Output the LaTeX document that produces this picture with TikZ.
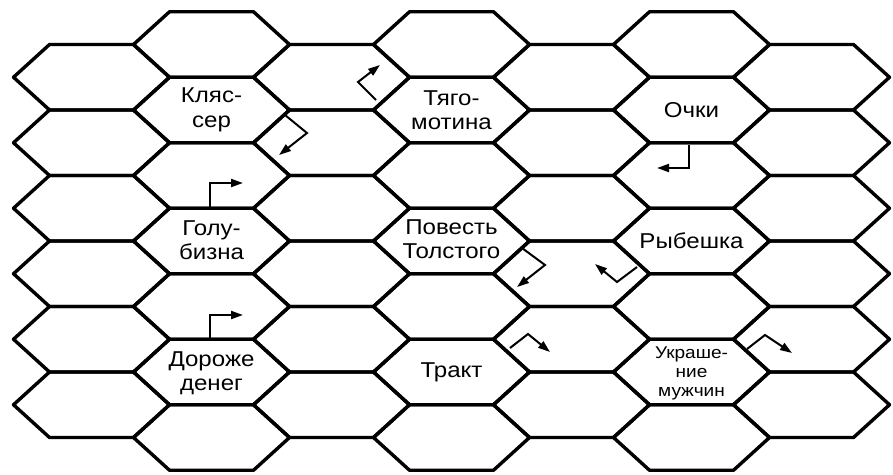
\documentclass[tikz,border=0pt]{standalone}
\usepackage{fontspec}
\setmainfont{Liberation Sans}[FakeStretch=1.12]
\usetikzlibrary{arrows.meta}

\tikzset{
  cell/.style={line width=3.4pt, line join=round},
  word/.style={align=center, inner sep=0pt, font=\fontsize{21.5}{24.5}\selectfont},
  turn/.style={line width=2pt, -{Triangle[length=12pt,width=8pt]}}
}

\begin{document}
\begin{tikzpicture}[x=1pt,y=-1pt]
\useasboundingbox (0,0) rectangle (893,474);
% odd columns: six cells, even columns: seven cells
\foreach \cx in {91.5,331.5,571.5,811.5}
  \foreach \cy in {77.25,142.75,208.25,273.75,339.25,404.75}
    \draw[cell] (\cx-78,\cy) -- ++(36,-32.75) -- ++(84,0) -- ++(36,32.75)
      -- ++(-36,32.75) -- ++(-84,0) -- cycle;
\foreach \cx in {211.5,451.5,691.5}
  \foreach \cy in {44.5,110,175.5,241,306.5,372,437.5}
    \draw[cell] (\cx-78,\cy) -- ++(36,-32.75) -- ++(84,0) -- ++(36,32.75)
      -- ++(-36,32.75) -- ++(-84,0) -- cycle;

\node[word] (klyaser) at (211.5,110) {Кляс-\\сер};
\node[word] (tyagomotina) at (451.5,110) {Тяго-\\мотина};
\node[word] (ochki) at (691.5,110) {Очки};
\node[word] (golubizna) at (211.5,240) {Голу-\\бизна};
\node[word] (povest) at (451.5,239) {Повесть\\Толстого};
\node[word] (rybeshka) at (691.5,241) {Рыбешка};
\node[word] (dorozhe) at (211.5,373) {Дороже\\денег};
\node[word] (trakt) at (451.5,372) {Тракт};
\node[word, font=\fontsize{17}{19}\selectfont] (ukrashenie) at (691.5,373)
  {Украше-\\ние\\мужчин};

\draw[turn] (285,115) -- (307,133) -- (279,155);
\draw[turn] (376,100) -- (358,82) -- (380,65);
\draw[turn] (689,145) -- (689,168) -- (657,168);
\draw[turn] (210,207) -- (210,183) -- (243,183);
\draw[turn] (210,338) -- (210,315) -- (243,315);
\draw[turn] (522,248) -- (545,265) -- (517,287);
\draw[turn] (637,267) -- (617,282) -- (595,264);
\draw[turn] (510,348) -- (528,334) -- (550,352);
\draw[turn] (747,349) -- (765,335) -- (792,353);
\end{tikzpicture}
\end{document}
